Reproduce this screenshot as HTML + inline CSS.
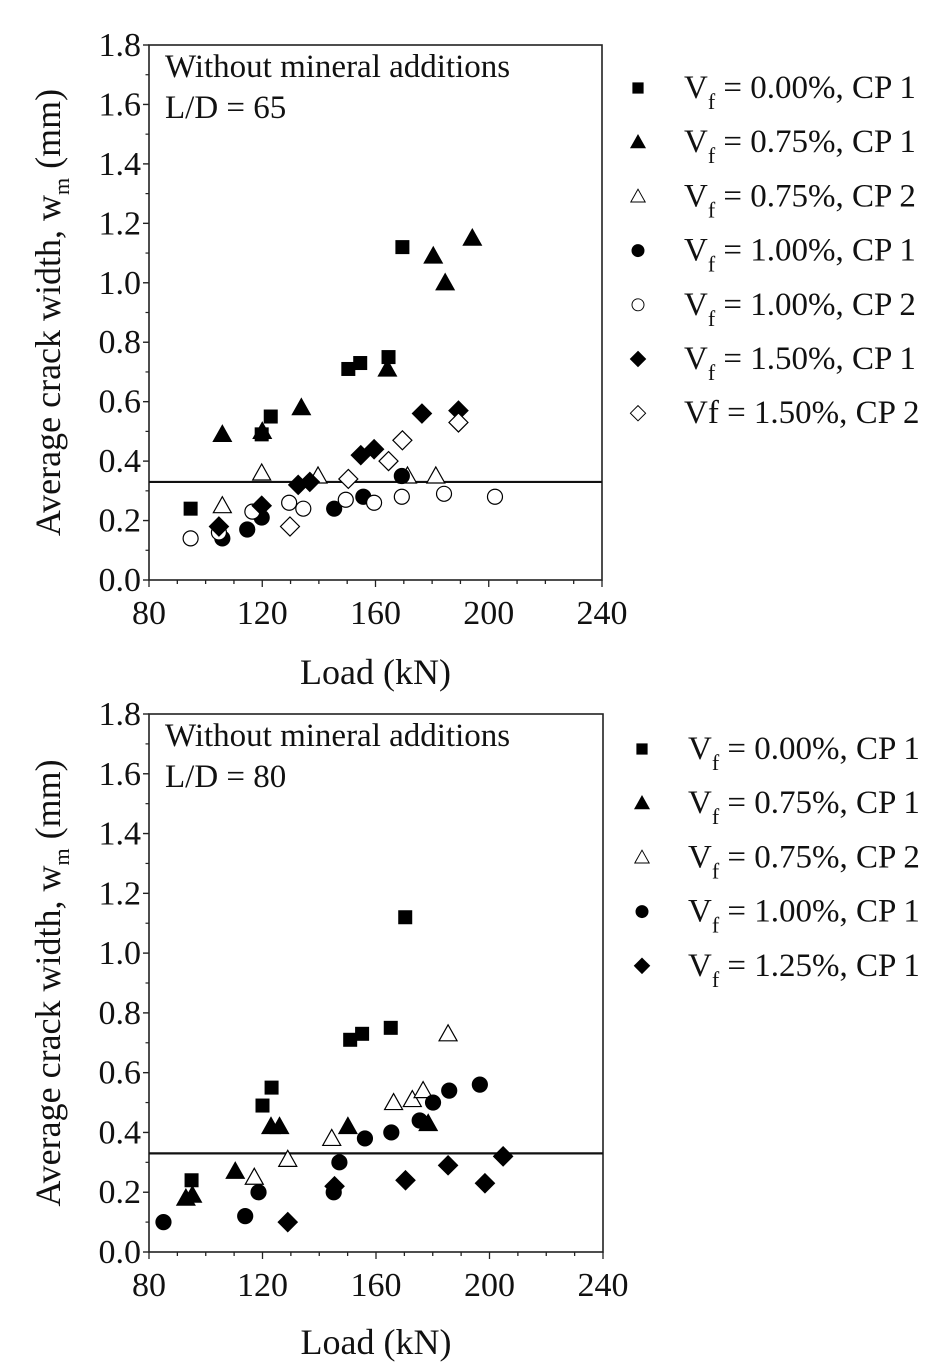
<!DOCTYPE html>
<html><head><meta charset="utf-8"><style>
html,body{margin:0;padding:0;background:#fff;}
svg{display:block;font-family:"Liberation Serif",serif;}
</style></head>
<body>
<svg id="fig" width="950" height="1372" viewBox="0 0 950 1372" xmlns="http://www.w3.org/2000/svg"></svg>
<script>
// ---- Data: top chart (L/D = 65) ----
const topSeriesNames = ["0.00%, CP 1","0.75%, CP 1","0.75%, CP 2","1.00%, CP 1","1.00%, CP 2","1.50%, CP 1","1.50%, CP 2"];
const topSeriesMarkers = ["square","triangle","triangle-open","circle","circle-open","diamond","diamond-open"];
const topSq_x = [94.7,119.8,123,150.4,154.6,164.6,169.5];
const topSq_y = [0.24,0.49,0.55,0.71,0.73,0.75,1.12];
const topTri_x = [105.9,120,133.8,164.2,180.4,184.6,194.2];
const topTri_y = [0.49,0.50,0.58,0.71,1.09,1.00,1.15];
const topTriO_x = [105.9,119.8,139.7,171.3,181.3];
const topTriO_y = [0.25,0.36,0.35,0.35,0.35];
const topCir_x = [105.9,114.7,119.8,145.4,155.7,169.3];
const topCir_y = [0.14,0.17,0.21,0.24,0.28,0.35];
const topCirO_x = [94.7,104.7,116.5,129.5,134.5,149.5,159.5,169.3,184.2,202.2];
const topCirO_y = [0.14,0.16,0.23,0.26,0.24,0.27,0.26,0.28,0.29,0.28];
const topDia_x = [104.7,119.8,132.7,136.8,154.8,159.5,176.4,189.3];
const topDia_y = [0.18,0.25,0.32,0.33,0.42,0.44,0.56,0.57];
const topDiaO_x = [129.8,150.4,164.6,169.5,189.3];
const topDiaO_y = [0.18,0.34,0.40,0.47,0.53];
// ---- Data: bottom chart (L/D = 80) ----
const botSeriesNames = ["0.00%, CP 1","0.75%, CP 1","0.75%, CP 2","1.00%, CP 1","1.25%, CP 1"];
const botSeriesMarkers = ["square","triangle","triangle-open","circle","diamond"];
const botSq_x = [95,120,123.2,150.9,155.1,165.2,170.3];
const botSq_y = [0.24,0.49,0.55,0.71,0.73,0.75,1.12];
const botTri_x = [93,95.3,110.4,123,126,150.1,178.4];
const botTri_y = [0.18,0.19,0.27,0.42,0.42,0.42,0.43];
const botTriO_x = [117.1,128.9,144.4,166.2,172.8,176.6,185.4];
const botTriO_y = [0.25,0.31,0.38,0.50,0.51,0.54,0.73];
const botCir_x = [85.1,113.9,118.6,145.1,147.1,156.1,165.4,175.4,180.1,185.8,196.6];
const botCir_y = [0.10,0.12,0.20,0.20,0.30,0.38,0.40,0.44,0.50,0.54,0.56];
const botDia_x = [128.9,145.4,170.4,185.4,198.4,204.8];
const botDia_y = [0.10,0.22,0.24,0.29,0.23,0.32];
// ---- Axes ----
const xTicks = [80,120,160,200,240];
const yTicks = [0.0,0.2,0.4,0.6,0.8,1.0,1.2,1.4,1.6,1.8];
const limitValue = 0.33;

const NS="http://www.w3.org/2000/svg";
const svg=document.getElementById('fig');
function el(tag,attrs,parent){const e=document.createElementNS(NS,tag);for(const k in attrs)e.setAttribute(k,attrs[k]);(parent||svg).appendChild(e);return e;}

function marker(g,type,cx,cy){
  let e;
  const fill = type.endsWith('open')?'#fff':'#000';
  const base = type.replace('-open','');
  if(base==='square') e=el('rect',{x:cx-6.5,y:cy-6.5,width:13,height:13,fill:fill,stroke:'#000','stroke-width':1},g);
  else if(base==='triangle') e=el('polygon',{points:`${cx},${cy-9} ${cx-9},${cy+7} ${cx+9},${cy+7}`,fill:fill,stroke:'#000','stroke-width':1.2},g);
  else if(base==='circle') e=el('circle',{cx:cx,cy:cy,r:7.5,fill:fill,stroke:'#000','stroke-width':1.2},g);
  else e=el('polygon',{points:`${cx},${cy-9.5} ${cx+9.5},${cy} ${cx},${cy+9.5} ${cx-9.5},${cy}`,fill:fill,stroke:'#000','stroke-width':1.2},g);
  return e;
}

function chart(cfg){
  const {x0,x1,yTop,yBot,prefix,series,names,markers,ld,legendX,legendTextX,legendY0,titleY,ytitleX} = cfg;
  const xs=v=>x0+(v-80)/(240-80)*(x1-x0);
  const ys=v=>yBot-(v/1.8)*(yBot-yTop);
  const g=el('g',{});
  
  
  const frame=el('rect',{x:x0,y:yTop,width:x1-x0,height:yBot-yTop,fill:'none',stroke:'#222','stroke-width':1.6},g);
  
  
  const ya=el('g',{},g);
  
  
  yTicks.forEach((t,i)=>{
    const y=ys(t);
    el('line',{x1:x0-6,x2:x0,y1:y,y2:y,stroke:'#222','stroke-width':1.4},ya);
    if(i<yTicks.length-1){const ym=ys(t+0.1);el('line',{x1:x0-3.5,x2:x0,y1:ym,y2:ym,stroke:'#222','stroke-width':1.2},ya);}
    const tx=el('text',{x:x0-8,y:y+11,'text-anchor':'end','font-size':34,fill:'#111'},ya);
    tx.textContent=t.toFixed(1);
    
    
  });
  const xa=el('g',{},g);
  
  
  for(let v=80;v<=240;v+=10){
    const x=xs(v);const major=(v%40===0);
    el('line',{x1:x,x2:x,y1:yBot,y2:yBot+(major?7:4),stroke:'#222','stroke-width':1.3},xa);
  }
  xTicks.forEach(t=>{
    const tx=el('text',{x:xs(t),y:yBot+44,'text-anchor':'middle','font-size':34,fill:'#111'},xa);
    tx.textContent=t;
    
    
  });
  const xt=el('text',{x:(x0+x1)/2,y:titleY,'text-anchor':'middle','font-size':36,fill:'#111'},g);
  xt.textContent='Load (kN)';
  
  
  const yt=el('text',{x:0,y:0,'text-anchor':'middle','font-size':36,fill:'#111',transform:`translate(${ytitleX},${(yTop+yBot)/2}) rotate(-90)`},g);
  yt.innerHTML='Average crack width, w<tspan dy="9" font-size="22">m</tspan><tspan dy="-9"> (mm)</tspan>';
  
  
  const a1=el('text',{x:x0+16,y:yTop+32,'font-size':33,fill:'#111'},g);
  a1.textContent='Without mineral additions';
  
  
  const a2=el('text',{x:x0+16,y:yTop+73,'font-size':33,fill:'#111'},g);
  a2.textContent='L/D = '+ld;
  
  
  const ll=el('line',{x1:x0,x2:x1,y1:ys(limitValue),y2:ys(limitValue),stroke:'#111','stroke-width':2.2},g);
  
  
  series.forEach((s,i)=>{
    const sg=el('g',{},g);
    
    
    s[0].forEach((xv,j)=>{
      const m=marker(sg,markers[i],xs(xv),ys(s[1][j]));
      
      
    });
  });
  const lg=el('g',{},g);
  
  
  names.forEach((n,i)=>{
    const y=legendY0+i*54.2;
    const e=el('g',{},lg);
    
    
    const mk=markers[i];
    const sm=el('g',{transform:`translate(${legendX},${y-10}) scale(0.8) translate(${-legendX},${-(y-10)})`},e);
    marker(sm,mk,legendX,y-10);
    const t=el('text',{x:legendTextX,y:y,'font-size':33,fill:'#111'},e);
    if(prefix==='top' && i===6) t.textContent='Vf = '+n;
    else t.innerHTML='V<tspan dy="11" font-size="22">f</tspan><tspan dy="-11"> = '+n+'</tspan>';
  });
}

chart({x0:149,x1:602,yTop:45,yBot:580,prefix:'top',
  series:[[topSq_x,topSq_y],[topTri_x,topTri_y],[topTriO_x,topTriO_y],[topCir_x,topCir_y],[topCirO_x,topCirO_y],[topDia_x,topDia_y],[topDiaO_x,topDiaO_y]],
  names:topSeriesNames,markers:topSeriesMarkers,ld:65,legendX:638,legendTextX:684,legendY0:98,titleY:684,ytitleX:60});
chart({x0:149,x1:603,yTop:714,yBot:1252,prefix:'bottom',
  series:[[botSq_x,botSq_y],[botTri_x,botTri_y],[botTriO_x,botTriO_y],[botCir_x,botCir_y],[botDia_x,botDia_y]],
  names:botSeriesNames,markers:botSeriesMarkers,ld:80,legendX:642,legendTextX:688,legendY0:759,titleY:1354,ytitleX:60});
</script>
</body></html>
